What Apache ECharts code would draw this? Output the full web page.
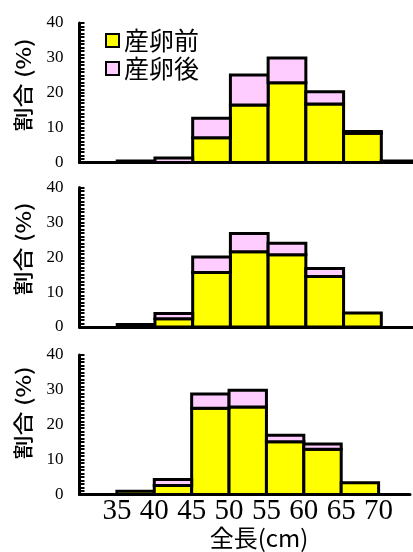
<!DOCTYPE html>
<html>
<head>
<meta charset="utf-8">
<script src="https://cdn.jsdelivr.net/npm/echarts@6/dist/echarts.min.js"></script>
<style>
html,body{margin:0;padding:0;background:#fff;}
#c{width:413px;height:552px;}
</style>
</head>
<body>
<div id="c"></div>
<script>
// ---- data ----
const binStarts = [30, 35, 40, 45, 50, 55, 60, 65, 70];   // bin lower edge (cm), width 5
const binWidth = 5;
const xTickValues = [35, 40, 45, 50, 55, 60, 65, 70];
const xTickLabels = ['35', '40', '45', '50', '55', '60', '65', '70'];
const yTickLabels = ['0', '10', '20', '30', '40'];
const seriesNames = ['産卵前', '産卵後'];
const yName = '割合 (%)';
const xName = '全長(cm)';

const pre1  = [0, 0.4, 0,   7.1, 16.5, 22.9, 16.8, 8.4, 0.4];
const post1 = [0, 0,   1.3, 5.6,  8.6,  7.1,  3.5, 0.5, 0];
const pre2  = [0, 0.7, 2.4, 15.6, 21.6, 20.7, 14.5, 4.0, 0];
const post2 = [0, 0,   1.5,  4.5,  5.2,  3.3,  2.3, 0,   0];
const pre3  = [0, 0.9, 2.6, 24.7, 25.1, 15.1, 13.0, 3.4, 0];
const post3 = [0, 0,   1.7,  4.1,  4.8,  1.9,  1.5, 0,   0];

const panels = [[pre1, post1], [pre2, post2], [pre3, post3]];

// ---- styling ----
const YELLOW = '#FFFF00';
const PINK = '#FFCCFF';
const gridTops = [23, 187.5, 355];
const gridH = 139.5;
const yNameCenters = [85, 249, 413];

function makeRender(fill) {
  return function (params, api) {
    const b = api.value(1), t = api.value(2);
    if (t - b <= 0) return null;
    const p0 = api.coord([api.value(0), b]);
    const p1 = api.coord([api.value(0) + binWidth, t]);
    return {
      type: 'rect',
      shape: { x: p0[0], y: p1[1], width: p1[0] - p0[0], height: p0[1] - p1[1] },
      style: { fill: fill, stroke: '#000', lineWidth: 3 }
    };
  };
}

const grids = [], xAxes = [], yAxes = [], series = [], graphics = [];
panels.forEach(function (pd, i) {
  const pre = pd[0], post = pd[1];
  grids.push({ left: 79.5, right: 0, top: gridTops[i], height: gridH });
  xAxes.push({
    gridIndex: i, type: 'value', min: 30, max: 74.2, interval: 5,
    axisLine: { lineStyle: { color: '#000', width: 3 } },
    axisTick: { show: false },
    splitLine: { show: false },
    axisLabel: {
      show: i === 2, margin: 2, color: '#000',
      fontFamily: 'Liberation Serif', fontSize: 29,
      formatter: function (v) { const k = xTickValues.indexOf(v); return k >= 0 ? xTickLabels[k] : ''; }
    }
  });
  yAxes.push({
    gridIndex: i, type: 'value', min: 0, max: 40, interval: 1,
    axisLine: { show: true, lineStyle: { color: '#000', width: 3 } },
    axisTick: { show: true, inside: true, length: 5, lineStyle: { color: '#000', width: 2 } },
    splitLine: { show: false },
    axisLabel: {
      margin: 16, color: '#000', fontFamily: 'Liberation Serif', fontSize: 17,
      formatter: function (v) { return (Math.round(v) % 10 === 0) ? (yTickLabels[Math.round(v / 10)] || '') : ''; }
    }
  });
  series.push({
    type: 'custom', name: seriesNames[0], xAxisIndex: i, yAxisIndex: i,
    itemStyle: { color: YELLOW },
    renderItem: makeRender(YELLOW),
    data: binStarts.map(function (s, k) { return [s, 0, pre[k]]; })
  });
  series.push({
    type: 'custom', name: seriesNames[1], xAxisIndex: i, yAxisIndex: i,
    itemStyle: { color: PINK },
    renderItem: makeRender(PINK),
    data: binStarts.map(function (s, k) { return [s, pre[k], pre[k] + post[k]]; })
  });
  graphics.push({
    type: 'text', x: 23, y: yNameCenters[i], rotation: Math.PI / 2, scaleX: 1.2,
    style: { text: yName, fill: '#000', font: '500 20px "Noto Sans CJK JP"', textAlign: 'center', textVerticalAlign: 'middle' }
  });
});

graphics.push({
  type: 'text', x: 259, y: 538,
  style: { text: xName, fill: '#000', font: '24px "Noto Sans CJK JP"', textAlign: 'center', textVerticalAlign: 'middle' }
});

const chart = echarts.init(document.getElementById('c'), null, { renderer: 'canvas' });
chart.setOption({
  animation: false,
  backgroundColor: '#fff',
  grid: grids,
  xAxis: xAxes,
  yAxis: yAxes,
  series: series,
  legend: {
    data: seriesNames, orient: 'vertical', left: 100, top: 23,
    icon: 'rect', itemWidth: 13, itemHeight: 13, itemGap: 3,
    itemStyle: { borderColor: '#000', borderWidth: 2 },
    textStyle: { color: '#000', fontFamily: 'Noto Sans CJK JP', fontSize: 25, lineHeight: 25 },
    selectedMode: false
  },
  graphic: graphics
});
</script>
</body>
</html>
